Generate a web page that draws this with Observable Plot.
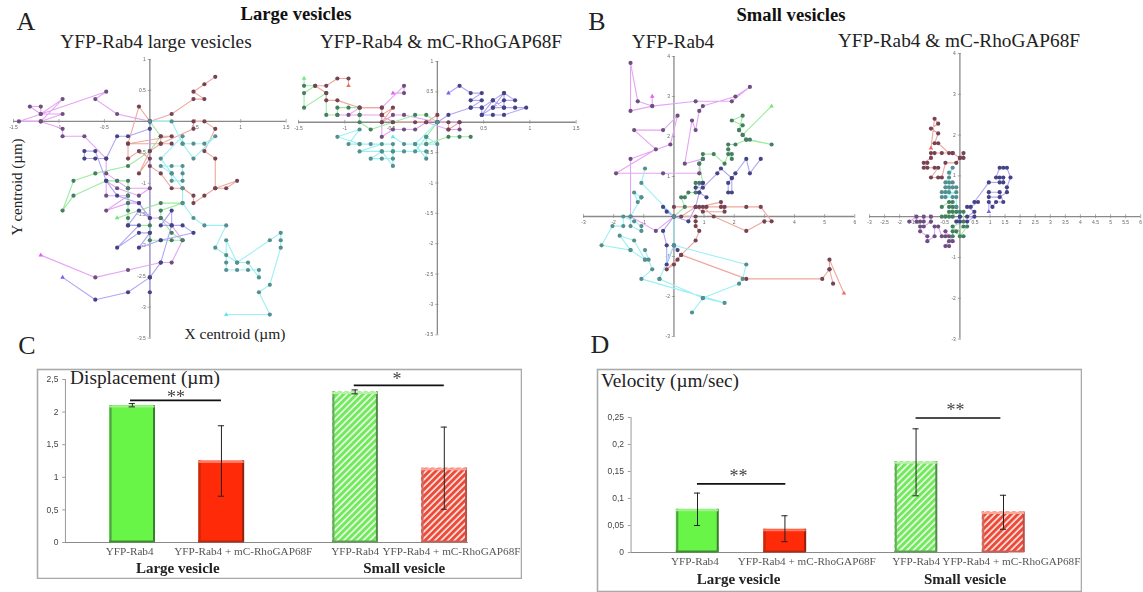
<!DOCTYPE html>
<html><head><meta charset="utf-8">
<script src="https://cdn.jsdelivr.net/npm/d3@7"></script>
<script src="https://cdn.jsdelivr.net/npm/@observablehq/plot@0.6"></script>
<style>
html,body{margin:0;padding:0;background:#fff}
#page{position:relative;width:1143px;height:592px;overflow:hidden;font-family:"Liberation Serif",serif}
#page svg{position:absolute;background:transparent;max-width:none}
.t{position:absolute;white-space:nowrap;line-height:1;color:#222;transform:translate(-50%,-50%)}
.blur{filter:blur(.5px)}
</style></head><body><div id="page"></div>
<script>
const gridStep = 0.12;

// Panel A, YFP-Rab4 large vesicles
const a1Magenta=[[-10,-18],[-5,-21],[-2,-20],[1,-19],[2,-19],[3,-16],[2,-14],[1,-13],[0,-13],[-1,-11],[-2,-11],[-4,-12],[-2,-10],[-4,-10],[-4,-8],[-3,-9],[-1,-10],[0,-9],[-2,-9],[-3,-8],[-4,-7],[-4,-5],[-6,-2],[-8,-2],[-8,-1],[-10,0],[-8,3],[-10,1],[-11,2],[-10,2],[-10,1],[-8,1],[-10,0],[-12,0],[-4,4],[-5,3],[-3,1],[0,0]];
const a1Green=[[-3,-13],[1,-11],[3,-11],[1,-12],[1,-13],[2,-15],[3,-16],[2,-16],[1,-16],[0,-16],[0,-15],[0,-14],[-2,-14],[-2,-13],[-2,-12],[-2,-11],[-2,-10],[-2,-9],[-2,-8],[-3,-8],[-4,-8],[-7,-10],[-8,-12],[-7,-8],[-5,-7],[-2,-6],[0,-4],[1,-2],[0,0]];
const a1Red=[[6,6],[5,5],[4,4],[5,3],[4,3],[2,1],[0,0],[-1,2],[-2,-3],[-2,-5],[-1,-4],[0,-5],[-1,-7],[0,-4],[1,-3],[2,-3],[-2,-3],[2,-2],[1,-2],[1,-3],[4,-1],[4,0],[5,0],[6,-1],[5,-4],[6,-5],[6,-9],[7,-9],[8,-8],[6,-9],[5,-10],[4,-11],[4,-10],[3,-9],[2,-9],[1,-7],[0,-6]];
const a1Blue=[[-8,-21],[-5,-24],[-2,-23],[0,-21],[1,-19],[2,-14],[2,-12],[1,-14],[3,-14],[4,-15],[1,-16],[-1,-17],[0,-15],[-1,-15],[-3,-17],[-1,-14],[-2,-14],[-1,-12],[0,-13],[-1,-11],[-3,-10],[-4,-8],[-5,-4],[-6,-4],[-6,-5],[-5,-5],[-4,-5],[-3,-2],[-2,-2],[0,-1],[0,0],[0,-21],[0,-23]];
const a1Cyan=[[7,-26],[11,-26],[10,-23],[11,-22],[12,-17],[12,-16],[12,-15],[11,-16],[8,-19],[7,-16],[7,-18],[7,-19],[7,-20],[8,-20],[9,-20],[10,-20],[10,-21],[9,-19],[8,-19],[6,-17],[7,-14],[5,-14],[4,-13],[3,-11],[3,-9],[2,-7],[2,-8],[3,-8],[3,-7],[3,-6],[2,-6],[1,-6],[2,-7],[1,-5],[3,-2],[3,-3],[4,-3],[5,-3],[6,-2],[4,-5],[3,-3],[2,0],[0,0]];

// Panel A, YFP-Rab4 & mC-RhoGAP68F
const a2Magenta=[[-4,4],[-3,4],[-3,5],[-5,2],[-7,2],[-8,1],[-9,1],[-7,1],[-5,1],[-5,-2],[-4,-1],[-3,-1],[-2,-1],[-1,0],[1,-1],[2,-1],[2,0],[0,0],[-3,1],[-4,1],[-5,0]];
const a2Green=[[-12,6],[-12,5],[-11,5],[-12,4],[-12,2],[-10,4],[-10,1],[-9,1],[-9,2],[-8,2],[-7,2],[-7,1],[-7,0],[-6,-1],[-4,0],[-2,1],[-1,1],[0,0],[-1,-2],[-1,-3],[1,-2],[2,-2],[3,-2]];
const a2Red=[[-8,5],[-8,6],[-9,6],[-10,5],[-11,5],[-10,4],[-10,3],[-9,3],[-7,2],[-5,2],[-5,1],[-5,0],[-4,2],[-5,1],[-4,0],[-2,0],[-1,0],[0,1],[0,0],[1,0],[1,-1],[2,0]];
const a2Blue=[[1,4],[2,5],[3,4],[4,4],[3,3],[4,3],[3,2],[4,2],[5,3],[6,4],[7,3],[6,3],[5,2],[6,2],[7,2],[8,2],[6,1],[5,1],[4,1],[5,2],[6,4],[6,2],[5,3],[4,1],[4,2],[3,2],[1,1],[0,0]];
const a2Cyan=[[-4,-2],[-3,-3],[-2,-3],[-1,-3],[0,-3],[-1,-2],[-2,-4],[-3,-4],[-4,-4],[-5,-4],[-7,-4],[-5,-3],[-6,-3],[-7,-3],[-8,-3],[-7,-1],[-9,-2],[-7,-3],[-4,-3],[-4,-5],[-5,-5],[-6,-5],[-5,-4],[-4,-6],[-4,-4],[-1,-4],[-1,-5],[-2,-3],[0,0]];

// Panel B, YFP-Rab4
const b1Magenta=[[-6,25],[-6,23],[-10,24],[-12,32],[-12,22],[-6,23],[6,24],[16,24],[21,27],[17,25],[8,23],[7,22],[6,18],[5,20],[3,11],[8,12],[7,11],[7,9],[-3,9],[-16,9],[-5,14],[-11,18],[-3,18],[1,21],[-1,15],[-12,12],[-12,0],[-5,-3],[0,0]];
const b1Green=[[27,23],[19,17],[18,18],[19,21],[16,20],[19,19],[18,18],[19,17],[20,16],[21,16],[27,15],[20,16],[17,15],[15,15],[15,14],[16,13],[16,12],[15,13],[14,11],[11,13],[8,13],[8,12],[7,11],[8,7],[7,7],[6,7],[6,5],[4,5],[3,4],[2,4],[3,2],[0,0]];
const b1Blue=[[24,12],[21,9],[20,12],[17,9],[16,8],[15,7],[15,5],[16,5],[16,8],[13,10],[12,9],[8,6],[6,6],[8,7],[7,5],[9,4],[7,5],[6,2],[4,-1],[0,0],[-3,2],[-2,1],[0,0],[-3,-3],[-2,-6],[-2,-10],[0,-6],[1,-7]];
const b1Red=[[47,-16],[43,-9],[43,-11],[44,-14],[43,-11],[41,-13],[20,-13],[2,-8],[1,-9],[0,-10],[-2,-11],[2,-8],[6,-5],[7,-3],[6,-2],[6,-1],[6,0],[2,0],[6,2],[8,1],[14,1],[13,3],[7,2],[9,2],[13,2],[14,2],[20,2],[24,2],[27,-1],[25,-1],[20,-3],[11,0],[8,2],[0,2],[0,0]];
const b1Cyan=[[-8,10],[-9,7],[0,0],[0,-6],[20,-10],[19,-13],[18,-14],[8,-17],[-4,-13],[0,-6],[-4,-13],[8,-17],[5,-20],[8,-17],[14,-18],[-9,-13],[-6,-11],[-8,-7],[-7,-9],[-8,-9],[-11,-5],[-15,-4],[-12,-7],[-8,-9],[-12,-7],[-20,-6],[-17,-2],[-14,-2],[-14,0],[-11,-1],[-9,-2],[-9,-3],[-12,-2],[-12,0],[-9,4],[-11,5],[-10,3],[-9,4]];

// Panel B, YFP-Rab4 & mC-RhoGAP68F
const b2Magenta=[[-14,-1],[-12,0],[-12,-1],[-11,-1],[-10,-1],[-10,0],[-8,0],[-8,-1],[-10,-2],[-11,-2],[-11,-3],[-9,-4],[-9,-5],[-7,-4],[-7,-2],[-6,-2],[-5,-4],[-4,-4],[-3,-4],[-4,-3],[-2,-5],[-3,-5],[-4,-6],[-3,-6]];
const b2Green=[[-5,2],[-3,3],[-2,3],[-3,2],[-2,2],[-1,2],[-3,1],[-2,1],[-5,0],[-4,0],[-3,0],[-2,0],[-1,1],[0,1],[1,1],[1,-1],[-2,-2],[-1,-3],[1,-2],[2,-2],[0,-4],[1,-4],[-2,-3],[-2,-4]];
const b2Red=[[-8,14],[-7,20],[-6,19],[-8,18],[-6,17],[-7,15],[-6,15],[-3,13],[-2,13],[-5,13],[-7,13],[-8,13],[-8,12],[-10,11],[-9,11],[-10,10],[-9,10],[-7,10],[-6,10],[-8,8],[-6,8],[-5,8],[-4,11],[-1,11],[0,12],[1,12],[1,13],[0,12],[-2,13]];
const b2Blue=[[8,1],[8,3],[9,2],[10,3],[12,3],[11,5],[8,5],[8,4],[11,4],[13,5],[13,6],[14,8],[13,10],[12,10],[11,10],[10,8],[11,8],[12,8],[12,7],[11,7],[8,7],[4,3],[5,3],[3,2],[2,2],[4,1],[2,0],[4,0],[2,-1],[0,-1],[-1,-1],[0,0]];
const b2Cyan=[[-3,9],[-2,10],[-3,8],[-4,7],[-3,7],[-2,7],[-4,6],[-3,6],[-2,6],[-1,6],[-5,5],[-4,5],[-3,5],[-1,5],[-5,4],[-4,4],[-2,4],[-1,4],[-1,2],[0,0]];

const lineColors={magenta:"#e6a4f4",green:"#9cec9e",red:"#f0a89e",blue:"#b0a6f4",cyan:"#9cf0f4"};
const dotColors={magenta:"#6e5080",green:"#457e62",red:"#744454",blue:"#444484",cyan:"#558f8f"};
const arrowColors={magenta:"#e060f0",green:"#70e878",red:"#f06a5a",blue:"#7a60f0",cyan:"#60e8f0"};

const aXTicks=[-1.5,-1,-.5,.5,1,1.5];
const aYTicks=[1,.5,-.5,-1,-1.5,-2,-2.5,-3,-3.5];
const b1XTicks=[-3,-2,-1,1,2,3,4,5,6];
const b2XTicks=[-3,-2.5,-2,-1.5,-1,-.5,.5,1,1.5,2,2.5,3,3.5,4,4.5,5,5.5,6];
const bYTicks=[4,3,2,1,-1,-2,-3];

const page=document.getElementById("page");
function scatter(tracks,xd,yd,xTicks,yTicks,box){
  const pad=12,w=box.x1-box.x0,h=box.y1-box.y0;
  const rows=tracks.flatMap(([name,pts])=>pts.map(([a,b],i)=>({track:name,i,x:a*gridStep,y:b*gridStep})));
  const starts=tracks.filter(t=>t[2]).map(([name,pts])=>({track:name,x:pts[0][0]*gridStep,y:pts[0][1]*gridStep}));
  const tx=(xd[1]-xd[0])*.006, ty=(yd[1]-yd[0])*.007;
  const p=Plot.plot({width:w+2*pad,height:h+2*pad,marginTop:0,marginLeft:0,marginRight:0,marginBottom:0,
    x:{domain:xd,range:[pad,pad+w]},y:{domain:yd,range:[pad+h,pad]},axis:null,
    marks:[
      Plot.ruleY([0],{stroke:"#8a8a8a",strokeWidth:1.3,x1:xd[0],x2:xd[1]}),
      Plot.ruleX([0],{stroke:"#8a8a8a",strokeWidth:1.3,y1:yd[0],y2:yd[1]}),
      Plot.ruleX(xTicks,{x:d=>d,y1:-ty,y2:ty,stroke:"#8a8a8a",strokeWidth:.7}),
      Plot.ruleY(yTicks,{y:d=>d,x1:-tx,x2:tx,stroke:"#8a8a8a",strokeWidth:.7}),
      Plot.text(xTicks,{x:d=>d,y:0,dy:6,text:d=>String(d),fontSize:5,fill:"#666",fontFamily:"Liberation Sans"}),
      Plot.text(yTicks,{x:0,y:d=>d,dx:-4,textAnchor:"end",text:d=>String(d),fontSize:5,fill:"#666",fontFamily:"Liberation Sans"}),
      Plot.line(rows,{x:"x",y:"y",z:"track",stroke:d=>lineColors[d.track],strokeWidth:1.1,curve:"linear"}),
      Plot.dot(rows,{x:"x",y:"y",r:2.1,fill:d=>dotColors[d.track],stroke:"none",filter:d=>d.i>0||!starts.some(s=>s.track===d.track)}),
      Plot.dot(starts,{x:"x",y:"y",symbol:"triangle",r:1.7,fill:d=>arrowColors[d.track],stroke:"none"})
    ]});
  p.style.left=(box.x0-pad)+"px";p.style.top=(box.y0-pad)+"px";p.classList.add("blur");
  page.appendChild(p);
}
scatter([["magenta",a1Magenta,true],["green",a1Green,true],["red",a1Red,false],["blue",a1Blue,true],["cyan",a1Cyan,true]],
  [-1.5,1.5],[-3.5,1],aXTicks,aYTicks,{x0:13.3,x1:286,y0:58.7,y1:337.3});
scatter([["magenta",a2Magenta,true],["green",a2Green,true],["red",a2Red,true],["blue",a2Blue,true],["cyan",a2Cyan,true]],
  [-1.5,1.5],[-3.5,1],aXTicks,aYTicks,{x0:298.3,x1:576,y0:60.7,y1:334});
scatter([["magenta",b1Magenta,true],["green",b1Green,true],["blue",b1Blue,false],["red",b1Red,true],["cyan",b1Cyan,false]],
  [-3,6],[-3,4],b1XTicks,bYTicks,{x0:582.7,x1:854,y0:56,y1:336});
scatter([["magenta",b2Magenta,false],["green",b2Green,false],["cyan",b2Cyan,false],["red",b2Red,true],["blue",b2Blue,true]],
  [-3,6],[-3,4],b2XTicks,bYTicks,{x0:869.3,x1:1140.5,y0:52.7,y1:338.3});

// Bar charts
const barPos=[1,2,3.5,4.5];
const barLabels=["YFP-Rab4","YFP-Rab4 + mC-RhoGAP68F","YFP-Rab4","YFP-Rab4 + mC-RhoGAP68F"];
const barKinds=["g","r","gh","rh"];
const groupLabels=["Large vesicle","Small vesicle"];
const dispValues=[2.1,1.25,2.31,1.14];
const dispLow=[2.08,.71,2.28,.51];
const dispHigh=[2.13,1.79,2.34,1.77];
const dispTicks=[0,.5,1,1.5,2,2.5];
const dispTickLabels=["0","0,5","1","1,5","2","2,5"];
const dispLabelPos=[.97,2.245,3.5,4.58];
const dispGroupPos=[1.51,4.05];
const dispSig=[{x1:.98,x2:2,y:2.18,s:"**",sx:1.49,sy:2.226},{x1:3.49,x2:4.5,y:2.41,s:"*",sx:3.97,sy:2.5}];
const velValues=[.08,.043,.168,.075];
const velLow=[.05,.02,.105,.043];
const velHigh=[.11,.068,.229,.106];
const velTicks=[0,.05,.1,.15,.2,.25];
const velTickLabels=["0","0,05","0,1","0,15","0,2","0,25"];
const velLabelPos=[.97,2.25,3.5,4.59];
const velGroupPos=[1.47,4.06];
const velSig=[{x1:1,x2:2.01,y:.127,s:"**",sx:1.47,sy:.142},{x1:3.5,x2:4.47,y:.249,s:"**",sx:3.95,sy:.263}];

const fills={g:"#68f548",r:"#ff2a08",gh:"url(#hatchG)",rh:"url(#hatchR)"};
const leftEdge={g:"#4c9e40",r:"#c02a10",gh:"#6aa860",rh:"#d06a60"};
const rightEdge={g:"#3a7c30",r:"#8c2210",gh:"#4f8a48",rh:"#b85048"};
const topEdge={g:"#a4f08e",r:"#ff7a60",gh:"#b8f0a8",rh:"#ffa898"};
const bottomEdge={g:"#3e8e34",r:"#b02a14",gh:"#5f9f55",rh:"#c86058"};
function defs(){
  const g=d3.create("svg:g"), d=g.append("defs");
  [["hatchG","#eafde6","#72e85c"],["hatchR","#ffe4e0","#ea4a38"]].forEach(([id,bg,fg])=>{
    const pat=d.append("pattern").attr("id",id).attr("width",4.6).attr("height",4.6)
      .attr("patternUnits","userSpaceOnUse").attr("patternTransform","rotate(45)");
    pat.append("rect").attr("width",4.6).attr("height",4.6).attr("fill",bg);
    pat.append("rect").attr("width",2.9).attr("height",4.6).attr("fill",fg);
  });
  return g.node();
}
function bars(o){
  const rows=barPos.map((x,i)=>({x,v:o.values[i],lo:o.low[i],hi:o.high[i],k:barKinds[i]}));
  const hw=o.halfBar, capx=.035, xl=o.axisX[0];
  const p=Plot.plot({width:o.w,height:o.h,marginTop:0,marginLeft:0,marginRight:0,marginBottom:0,
    x:{domain:[1,4.5],range:o.xr},y:{domain:o.yd,range:o.yr},axis:null,
    marks:[
      defs,
      Plot.frame({stroke:"#a8aca8",strokeWidth:1.6,inset:1}),
      Plot.ruleY([0],{x1:o.axisX[0],x2:o.axisX[1],stroke:"#8a8a8a",strokeWidth:1.2}),
      Plot.ruleX([xl],{y1:o.yd[0],y2:o.yd[1],stroke:"#9a9a9a",strokeWidth:1}),
      Plot.ruleY(o.ticks,{y:d=>d,x1:xl-.03,x2:xl,stroke:"#9a9a9a"}),
      Plot.text(o.ticks,{x:xl,y:d=>d,dx:-7,textAnchor:"end",text:(d,i)=>o.tickLabels[i],fontSize:8.5,fill:"#444",fontFamily:"Liberation Sans"}),
      Plot.rectY(rows,{x1:d=>d.x-hw,x2:d=>d.x+hw,y1:0,y2:"v",fill:d=>fills[d.k]}),
      Plot.ruleX(rows,{x:d=>d.x-hw,dx:1,y1:0,y2:"v",stroke:d=>leftEdge[d.k],strokeWidth:2}),
      Plot.ruleX(rows,{x:d=>d.x+hw,dx:-1,y1:0,y2:"v",stroke:d=>rightEdge[d.k],strokeWidth:2}),
      Plot.ruleY(rows,{y:"v",dy:1,x1:d=>d.x-hw,x2:d=>d.x+hw,stroke:d=>topEdge[d.k],strokeWidth:2}),
      Plot.ruleY(rows,{y:0,dy:-1,x1:d=>d.x-hw,x2:d=>d.x+hw,stroke:d=>bottomEdge[d.k],strokeWidth:2}),
      Plot.ruleX(rows,{x:"x",y1:"lo",y2:"hi",stroke:"#222",strokeWidth:1}),
      Plot.ruleY(rows,{y:"lo",x1:d=>d.x-capx,x2:d=>d.x+capx,stroke:"#222",strokeWidth:1}),
      Plot.ruleY(rows,{y:"hi",x1:d=>d.x-capx,x2:d=>d.x+capx,stroke:"#222",strokeWidth:1}),
      Plot.ruleY(o.sig,{y:"y",x1:"x1",x2:"x2",stroke:"#111",strokeWidth:1.6}),
      Plot.text(o.sig,{x:"sx",y:"sy",text:"s",fontSize:18,fill:"#444",fontFamily:"Liberation Serif"}),
      Plot.text(barLabels,{x:(d,i)=>o.labelPos[i],y:0,dy:o.labelDy,text:d=>d,fontSize:11.2,fill:"#555",fontFamily:"Liberation Serif"}),
      Plot.text(groupLabels,{x:(d,i)=>o.groupPos[i],y:0,dy:o.groupDy,text:d=>d,fontSize:15,fontWeight:"bold",fill:"#222",fontFamily:"Liberation Serif"})
    ]});
  p.style.left=o.left+"px";p.style.top=o.top+"px";p.classList.add("blur");
  page.appendChild(p);
}
bars({left:36,top:368,w:486,h:211,xr:[95.8,407.8],yd:[0,2.5],yr:[174,11],axisX:[.25,4.77],values:dispValues,low:dispLow,high:dispHigh,
  ticks:dispTicks,tickLabels:dispTickLabels,sig:dispSig,labelPos:dispLabelPos,groupPos:dispGroupPos,labelDy:9,groupDy:26,halfBar:.255});
bars({left:596,top:368,w:486,h:224,xr:[101,407],yd:[0,.25],yr:[184,49],axisX:[.24,4.56],values:velValues,low:velLow,high:velHigh,
  ticks:velTicks,tickLabels:velTickLabels,sig:velSig,labelPos:velLabelPos,groupPos:velGroupPos,labelDy:9,groupDy:27,halfBar:.243});

// Text around the panels
const texts=[
 ["A",26,22,26],["B",597,22,26],["C",27,346,26],["D",600,345,26],
 ["Large vesicles",296,14,18.6,"bold"],["Small vesicles",791,15,18.6,"bold"],
 ["YFP-Rab4 large vesicles",156,42,19.3],["YFP-Rab4 & mC-RhoGAP68F",441,42,19.3],
 ["YFP-Rab4",673,42,19.3],["YFP-Rab4 & mC-RhoGAP68F",959,40.5,19.3],
 ["X centroid (µm)",235,334,15.5],
 ["Displacement (µm)",145,377.5,19.3],["Velocity (µm/sec)",670,381,19.3]
];
texts.forEach(([s,x,y,fs,fw])=>{
  const e=document.createElement("div");e.className="t";e.textContent=s;
  e.style.cssText=`left:${x}px;top:${y}px;font-size:${fs}px;${fw?"font-weight:"+fw+";color:#111;":""}`;
  page.appendChild(e);
});
const yl=document.createElement("div");yl.className="t";yl.textContent="Y centroid (µm)";
yl.style.cssText="left:17px;top:187px;font-size:15px;transform:translate(-50%,-50%) rotate(-90deg)";
page.appendChild(yl);
</script></body></html>
